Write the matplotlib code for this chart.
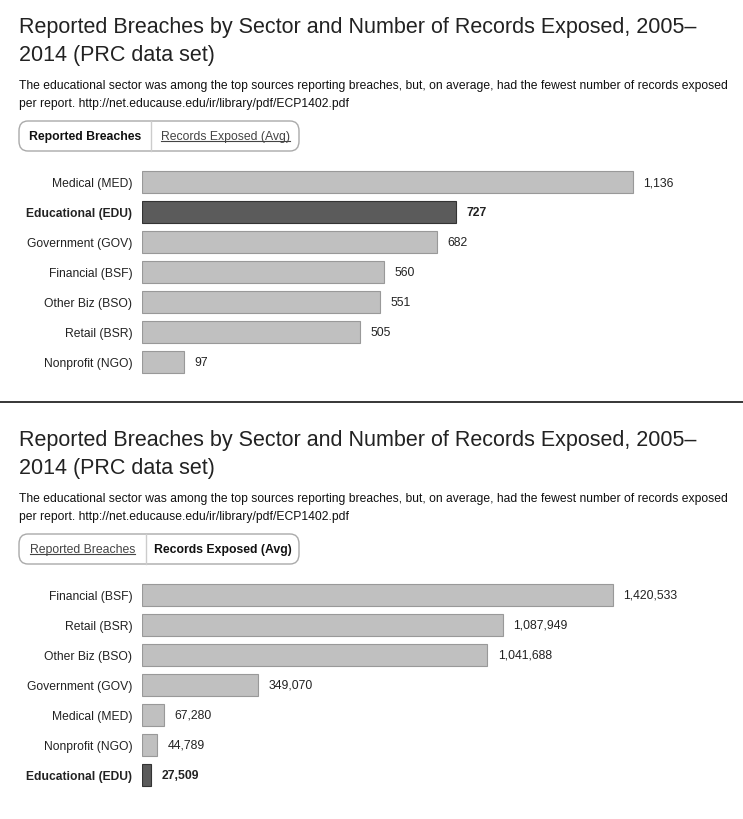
# reported breaches vs records exposed, two stacked panels
import matplotlib.pyplot as plt
from matplotlib.patches import FancyBboxPatch, Rectangle
from matplotlib.lines import Line2D

plt.rcParams['font.family'] = ['Liberation Sans', 'DejaVu Sans']

# data
title = 'Reported Breaches by Sector and Number of Records Exposed, 2005\u2013\n2014 (PRC data set)'
subtitle = ('The educational sector was among the top sources reporting breaches, but, on average, had the fewest number of records exposed\n'
            'per report. http://net.educause.edu/ir/library/pdf/ECP1402.pdf')
tabs = ['Reported Breaches', 'Records Exposed (Avg)']

breach_sectors = ['Medical (MED)', 'Educational (EDU)', 'Government (GOV)', 'Financial (BSF)',
                  'Other Biz (BSO)', 'Retail (BSR)', 'Nonprofit (NGO)']
breach_counts = [1136, 727, 682, 560, 551, 505, 97]

record_sectors = ['Financial (BSF)', 'Retail (BSR)', 'Other Biz (BSO)', 'Government (GOV)',
                  'Medical (MED)', 'Nonprofit (NGO)', 'Educational (EDU)']
record_avgs = [1420533, 1087949, 1041688, 349070, 67280, 44789, 27509]

highlight = 'Educational (EDU)'

W, H = 743, 820
fig = plt.figure(figsize=(W / 100, H / 100), dpi=100)


def fx(x):
    return x / W


def fy(y):
    return 1 - y / H


def draw_panel(top, sectors, values, active, divider_x, bar_end_px):
    # title + subtitle
    fig.text(fx(19), fy(top + 17), title, fontsize=15.5, color='#222222', va='top',
             linespacing=1.42)
    fig.text(fx(19), fy(top + 80), subtitle, fontsize=8.7, color='#111111', va='top',
             linespacing=1.65)

    # toggle buttons
    bx0, bx1 = 19, 299
    by0, by1 = top + 122, top + 152
    box = FancyBboxPatch((fx(bx0), fy(by1)), fx(bx1 - bx0), (by1 - by0) / H,
                         boxstyle='round,pad=0,rounding_size=0.012',
                         transform=fig.transFigure, facecolor='white',
                         edgecolor='#aaaaaa', linewidth=1, zorder=2)
    fig.patches.append(box)
    if active == 0:
        gx0, gx1 = divider_x, bx1
    else:
        gx0, gx1 = bx0, divider_x
    grey = Rectangle((fx(gx0), fy(by1)), fx(gx1 - gx0), (by1 - by0) / H,
                     transform=fig.transFigure, facecolor='#ececec', edgecolor='none', zorder=1.5)
    fig.patches.append(grey)
    grey.set_clip_path(box)
    fig.lines.append(Line2D([fx(divider_x)] * 2, [fy(by0), fy(by1)], transform=fig.transFigure,
                            color='#cccccc', linewidth=1, zorder=3))
    ymid = fy((by0 + by1) / 2)
    centers = [(bx0 + divider_x) / 2, (divider_x + bx1) / 2]
    for i, lab in enumerate(tabs):
        if i == active:
            fig.text(fx(centers[i]), ymid, lab, fontsize=8.8, fontweight='bold', color='#111111',
                     ha='center', va='center', zorder=4)
        else:
            t = fig.text(fx(centers[i]), ymid, lab, fontsize=8.8, color='#444444',
                         ha='center', va='center', zorder=4)
            fig.canvas.draw()
            bb = t.get_window_extent().transformed(fig.transFigure.inverted())
            fig.lines.append(Line2D([bb.x0, bb.x1], [bb.y0 + 0.001] * 2, transform=fig.transFigure,
                                    color='#444444', linewidth=0.8, zorder=4))

    # bars
    ax_top = top + 168
    ax_bot = ax_top + 30 * len(values)
    ax = fig.add_axes([fx(142), fy(ax_bot), fx(700 - 142), (ax_bot - ax_top) / H])
    ypos = list(range(len(values)))
    colors = ['#5b5b5b' if s == highlight else '#c0c0c0' for s in sectors]
    edges = ['#333333' if s == highlight else '#999999' for s in sectors]
    ax.barh(ypos, values, height=0.73, color=colors, edgecolor=edges, linewidth=0.8)
    ax.set_xlim(0, max(values) * (700 - 142) / bar_end_px)
    ax.set_ylim(len(values) - 0.5, -0.5)
    ax.set_yticks(ypos)
    ax.set_yticklabels(sectors, fontsize=8.7, color='#222222')
    for lab in ax.get_yticklabels():
        if lab.get_text() == highlight:
            lab.set_fontweight('bold')
    ax.tick_params(axis='y', length=0, pad=7)
    ax.set_xticks([])
    for sp in ax.spines.values():
        sp.set_visible(False)
    for y, v, s in zip(ypos, values, sectors):
        ax.annotate(f'{v:,}', (v, y), xytext=(7.5, 0), textcoords='offset points',
                    va='center', ha='left', fontsize=8.8, color='#222222',
                    fontweight='bold' if s == highlight else 'normal')


draw_panel(0, breach_sectors, breach_counts, 0, 151, 633 - 142)
fig.lines.append(Line2D([0, 1], [fy(402.5)] * 2, transform=fig.transFigure, color='black', linewidth=1.1))
draw_panel(413, record_sectors, record_avgs, 1, 146, 613 - 142)

fig.savefig('out.png', dpi=100, facecolor='white')
